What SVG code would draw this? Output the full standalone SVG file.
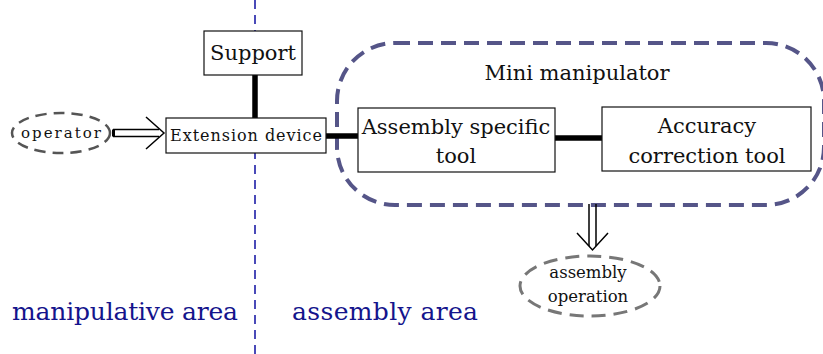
<svg xmlns="http://www.w3.org/2000/svg" width="823" height="354" viewBox="0 0 823 354">
<style>
text{fill:#111;text-anchor:middle}
.box{fill:#fff;stroke:#111;stroke-width:1.2}
.thick{stroke:#000;stroke-width:5.5;fill:none}
.arr{fill:none;stroke:#000;stroke-width:1.5}
.area{fill:#14148c;font-size:25px}
</style>
<rect width="823" height="354" fill="#fff"/>
<line x1="255" y1="0" x2="255" y2="354" stroke="#4a4ab8" stroke-width="2" stroke-dasharray="9,6"/>
<g font-family="DejaVu Serif, serif">
<g id="mini-manipulator">
<rect x="337" y="43" width="487" height="162" rx="58" ry="58" fill="none" stroke="#555588" stroke-width="4" stroke-dasharray="15,8"/>
<text x="577" y="80" font-size="21">Mini manipulator</text>
</g>
<g id="connectors">
<line class="thick" x1="255" y1="75" x2="255" y2="118"/>
<line class="thick" x1="326" y1="136" x2="358" y2="136"/>
<line class="thick" x1="555" y1="138" x2="602" y2="138"/>
<path class="arr" d="M113,129.5 H159 M113,136.5 H159"/>
<rect x="112" y="129.5" width="3" height="7" fill="#000"/>
<path class="arr" d="M146,117 L164,133 L146,149"/>
<path class="arr" d="M589,204 V246 M596,204 V246"/>
<path class="arr" d="M577,233 L592.5,250 L608,233"/>
</g>
<g id="support">
<rect class="box" x="204" y="31" width="98" height="44"/>
<text x="253" y="60" font-size="21">Support</text>
</g>
<g id="extension-device">
<rect class="box" x="166" y="118" width="160" height="35"/>
<text x="246" y="141" font-size="16" textLength="152" lengthAdjust="spacing">Extension device</text>
</g>
<g id="operator">
<ellipse cx="61" cy="133" rx="49" ry="20" fill="none" stroke="#555" stroke-width="2.5" stroke-dasharray="11,7"/>
<text x="61" y="138" font-size="15" textLength="80" lengthAdjust="spacing">operator</text>
</g>
<g id="assembly-specific-tool">
<rect class="box" x="358" y="108" width="197" height="64"/>
<text x="456" y="134" font-size="21">Assembly specific</text>
<text x="456" y="163" font-size="21">tool</text>
</g>
<g id="accuracy-correction-tool">
<rect class="box" x="602" y="107" width="209" height="64"/>
<text x="707" y="133" font-size="21">Accuracy</text>
<text x="707" y="163" font-size="21">correction tool</text>
</g>
<g id="assembly-operation">
<ellipse cx="590" cy="286" rx="70" ry="30" fill="none" stroke="#777" stroke-width="3" stroke-dasharray="14,8"/>
<text x="588" y="278" font-size="16.5">assembly</text>
<text x="588" y="302" font-size="16.5">operation</text>
</g>
<text class="area" x="125" y="320" textLength="226" lengthAdjust="spacing">manipulative area</text>
<text class="area" x="385" y="320" textLength="186" lengthAdjust="spacing">assembly area</text>
</g>
</svg>
